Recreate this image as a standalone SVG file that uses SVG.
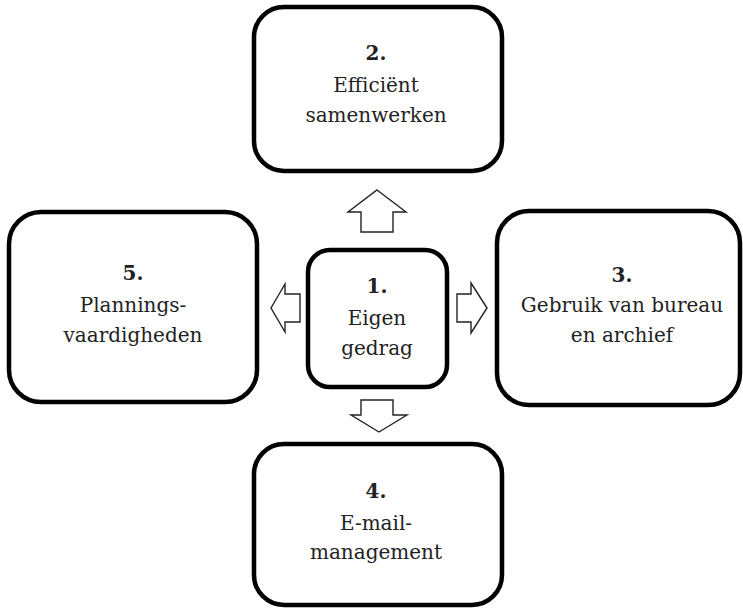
<svg xmlns="http://www.w3.org/2000/svg" width="743" height="610" viewBox="0 0 743 610">
<style>
.box{fill:#fff;stroke:#000;stroke-width:4.5}
.arr{fill:#fff;stroke:#222;stroke-width:1.4;stroke-linejoin:miter}
text{font-family:"DejaVu Serif","Liberation Serif",serif;font-size:20px;fill:#222;text-anchor:middle}
.n{font-weight:bold}
</style>
<rect width="743" height="610" fill="#fff"/>
<g id="connectors">
<polygon class="arr" points="377,190 406,212 393,212 393,232 361,232 361,212 348,212"/>
<polygon class="arr" points="379,432 407,415 393,415 393,400 361,400 361,415 351,415"/>
<polygon class="arr" points="487,308 471,283 471,294 457,294 457,322 471,322 471,333"/>
<polygon class="arr" points="271,308 285,284 285,294 300,294 300,322 285,322 285,332"/>
</g>
<g id="node1">
<rect class="box" x="308" y="250" width="139" height="137" rx="22"/>
<text x="377" y="293" class="n">1.</text>
<text x="377" y="325">Eigen</text>
<text x="377" y="355">gedrag</text>
</g>
<g id="node2">
<rect class="box" x="254" y="7" width="248" height="164" rx="30"/>
<text x="376" y="60" class="n">2.</text>
<text x="376" y="92">Efficiënt</text>
<text x="376" y="122">samenwerken</text>
</g>
<g id="node3">
<rect class="box" x="497" y="211" width="243" height="194" rx="32"/>
<text x="622" y="282" class="n">3.</text>
<text x="622" y="312">Gebruik van bureau</text>
<text x="622" y="342">en archief</text>
</g>
<g id="node4">
<rect class="box" x="254" y="444" width="248" height="161" rx="30"/>
<text x="376" y="498" class="n">4.</text>
<text x="376" y="530">E-mail-</text>
<text x="376" y="559">management</text>
</g>
<g id="node5">
<rect class="box" x="9" y="212" width="248" height="190" rx="32"/>
<text x="133" y="280" class="n">5.</text>
<text x="133" y="312">Plannings-</text>
<text x="133" y="342">vaardigheden</text>
</g>
</svg>
